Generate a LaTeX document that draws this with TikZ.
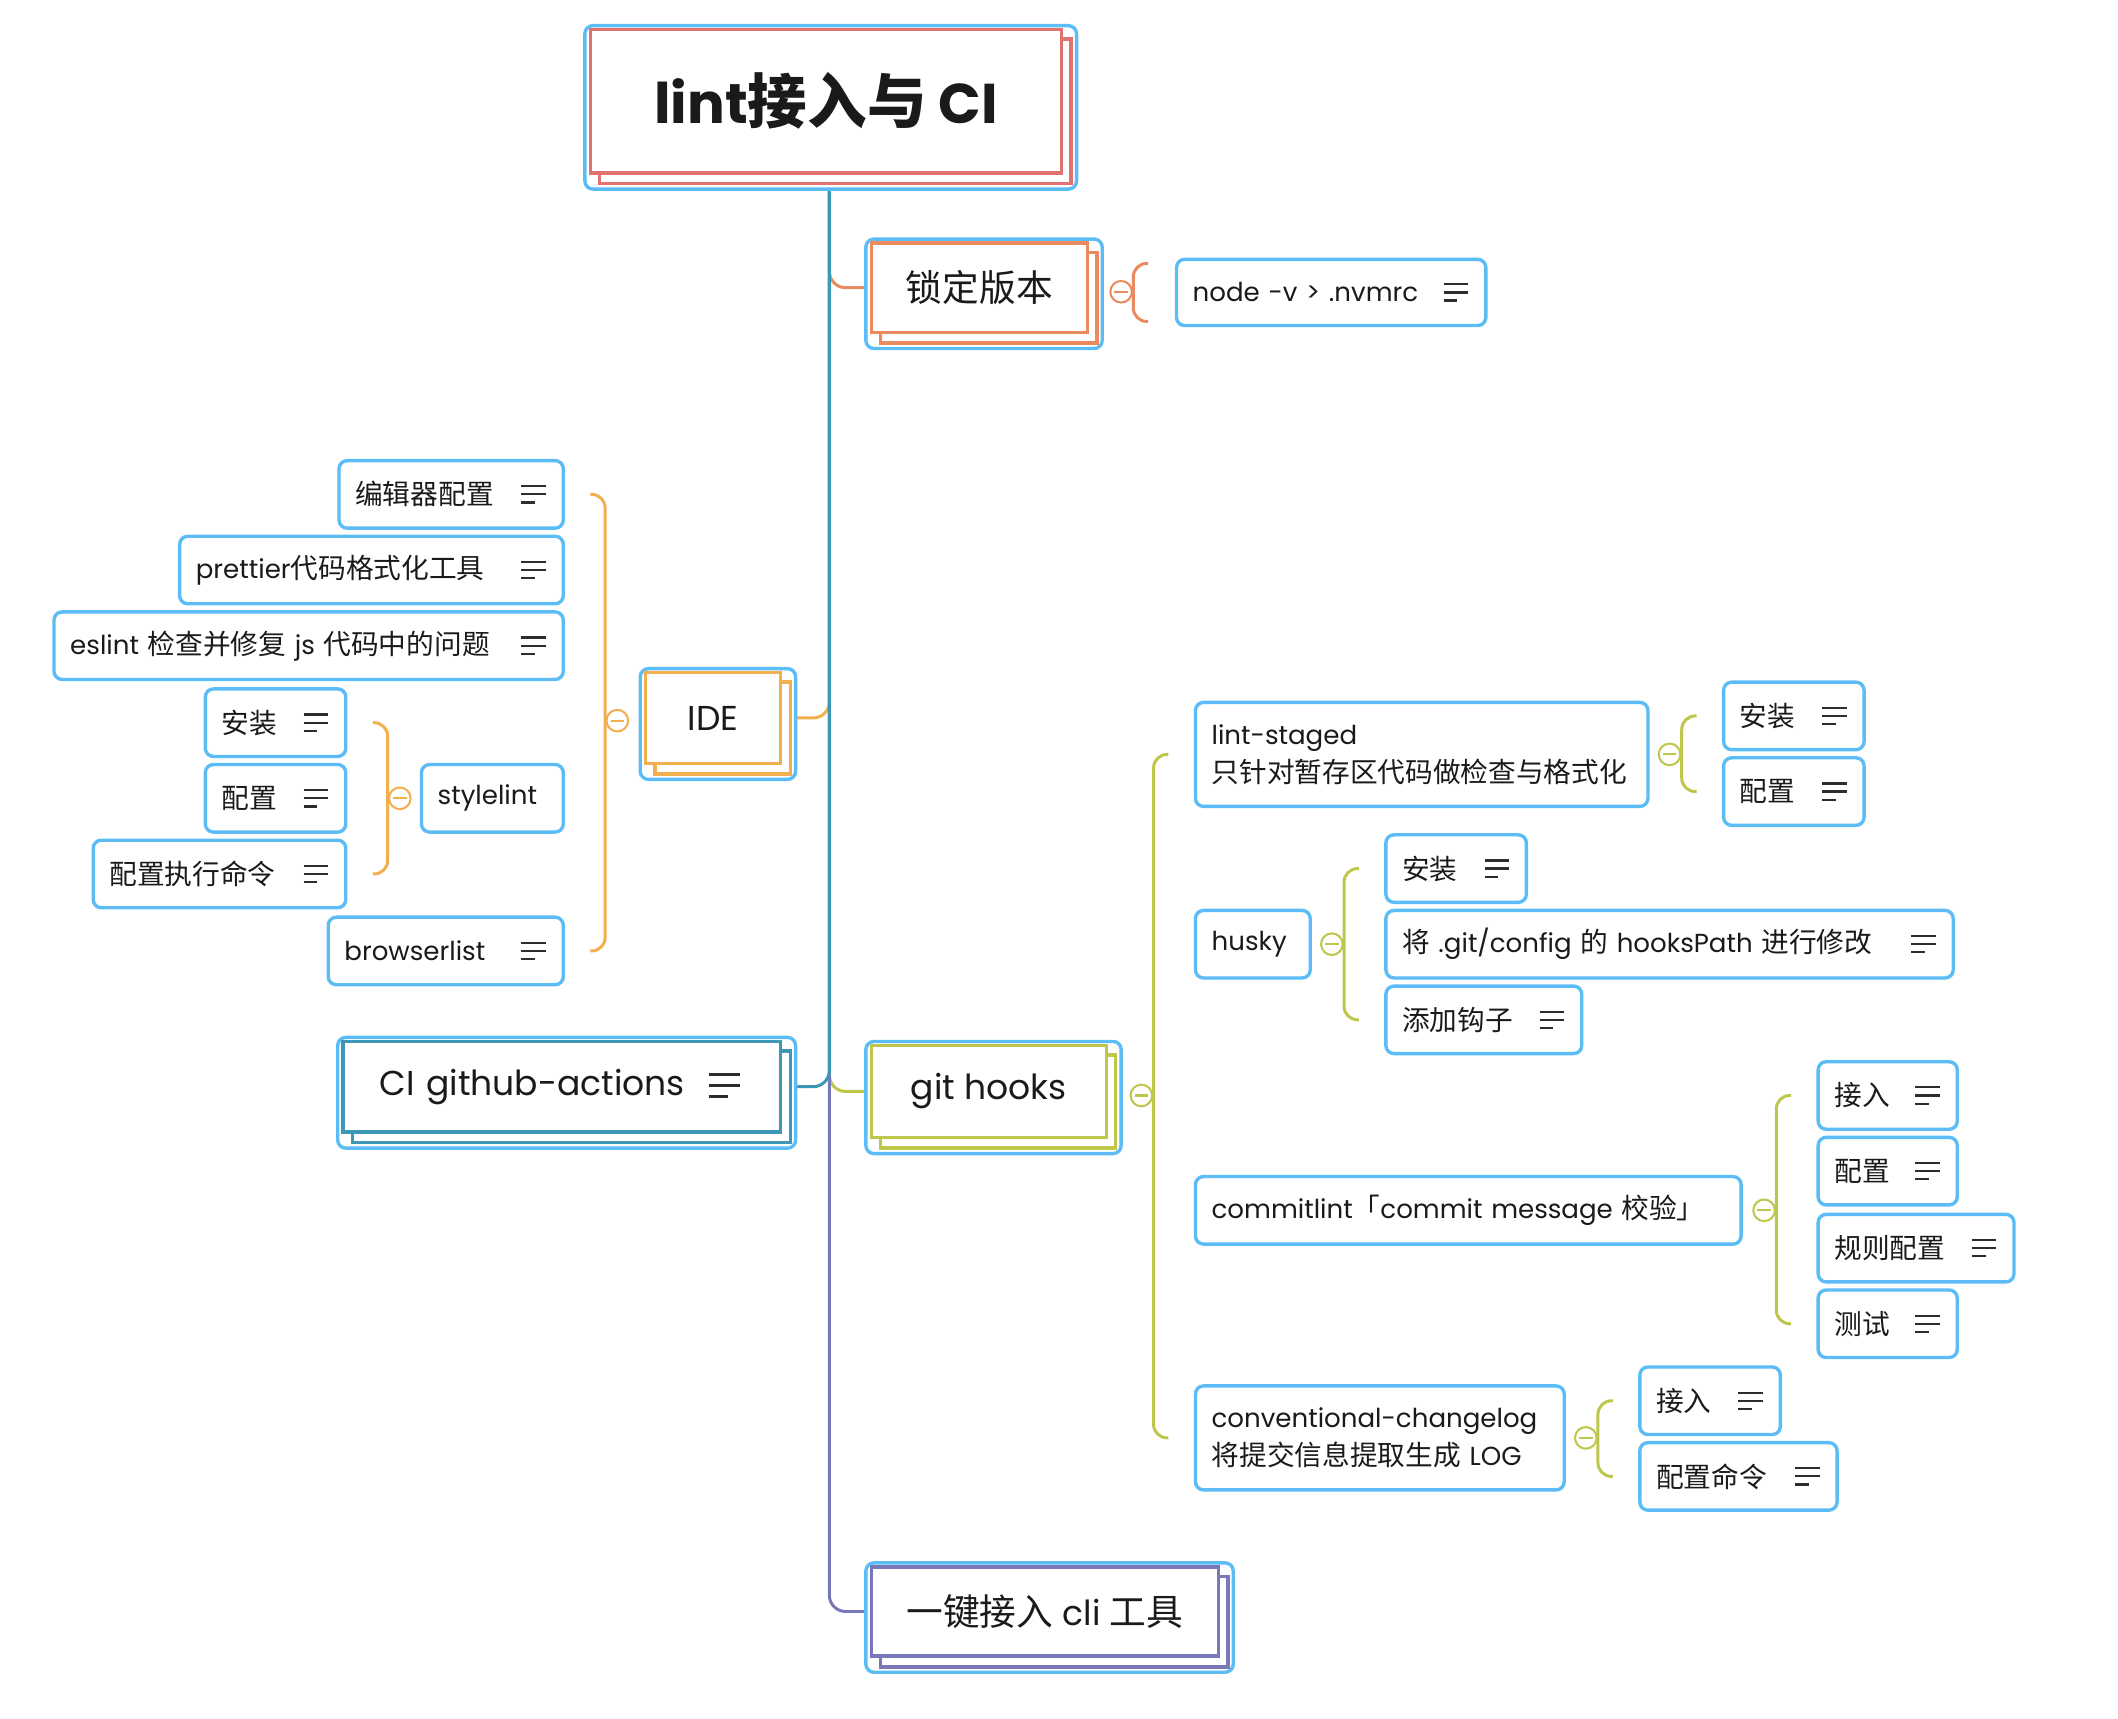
\documentclass[tikz,border=0pt]{standalone}
\usepackage{fontspec}
\setmainfont{Poppins}[Scale=0.965]
\newfontfamily\cjk{Noto Sans CJK SC}[Scale=1.025]
\newcommand\zh[1]{{\cjk #1}}
\newcommand\leaffont{\fontsize{20}{28}\selectfont}
\newcommand\topicfont{\fontsize{26.5}{32}\selectfont}
\newcommand\rootfont{\fontsize{43}{50}\selectfont\bfseries}
\definecolor{frameblue}{RGB}{92,188,245}
\definecolor{rootred}{RGB}{224,114,112}
\definecolor{lockorange}{RGB}{235,138,94}
\definecolor{ideorange}{RGB}{243,174,77}
\definecolor{teal}{RGB}{62,150,182}
\definecolor{hookgreen}{RGB}{190,198,75}
\definecolor{cliviolet}{RGB}{120,120,184}
\definecolor{ink}{RGB}{26,26,26}
\definecolor{iconcol}{RGB}{45,45,45}
\pgfdeclarelayer{lines}
\pgfdeclarelayer{background}
\newcommand\topicdeco[2]{%
  \begin{pgfonlayer}{background}
    \draw[frame] ([shift={(-4pt,3pt)}]#1.north west) rectangle ([shift={(11pt,-12pt)}]#1.south east);
    \draw[backrect=#2] ([shift={(7pt,-7pt)}]#1.north west) rectangle ([shift={(7pt,-8pt)}]#1.south east);
  \end{pgfonlayer}}
\newcommand\bracer[4]{%
  \begin{pgfonlayer}{background}
    \draw[brc=#1] ([xshift=20pt]#2.center |- #3.center) -- ([xshift=9pt]#2.center |- #3.center) -- ([xshift=9pt]#2.center |- #4.center) -- ([xshift=20pt]#2.center |- #4.center);
  \end{pgfonlayer}}
\newcommand\bracel[4]{%
  \begin{pgfonlayer}{background}
    \draw[brc=#1] ([xshift=-20pt]#2.center |- #3.center) -- ([xshift=-9pt]#2.center |- #3.center) -- ([xshift=-9pt]#2.center |- #4.center) -- ([xshift=-20pt]#2.center |- #4.center);
  \end{pgfonlayer}}
\begin{document}
\begin{tikzpicture}[x=1pt,y=-1pt,
  leaf/.style={draw=frameblue, line width=2.5pt, rounded corners=6pt, fill=white,
    inner xsep=12pt, inner ysep=0pt, outer sep=0pt, align=left, anchor=north west,
    font=\leaffont, text=ink, minimum height=50pt},
  icon/.style={path picture={\draw[line width=1.6pt, draw=iconcol, sharp corners]
    ([xshift=-31pt,yshift=6pt]path picture bounding box.east) -- ++(18pt,0pt)
    ([xshift=-31pt]path picture bounding box.east) -- ++(18pt,0pt)
    ([xshift=-31pt,yshift=-6pt]path picture bounding box.east) -- ++(10pt,0pt);}},
  bigicon/.style={path picture={\draw[line width=2pt, draw=iconcol]
    ([xshift=-53pt,yshift=9pt]path picture bounding box.east) -- ++(23pt,0pt)
    ([xshift=-53pt,yshift=1pt]path picture bounding box.east) -- ++(23pt,0pt)
    ([xshift=-53pt,yshift=-7pt]path picture bounding box.east) -- ++(14pt,0pt);}},
  topic/.style={draw=#1, line width=2.5pt, fill=white, inner sep=0pt, outer sep=0pt,
    anchor=north west, font=\topicfont, text=ink},
  frame/.style={draw=frameblue, line width=2.5pt, rounded corners=6pt, fill=white},
  backrect/.style={draw=#1, line width=2.5pt, fill=white},
  conn/.style={draw=#1, line width=2.2pt, rounded corners=12pt},
  brc/.style={draw=#1, line width=2.2pt, rounded corners=10pt},
  knob/.style={circle, draw=#1, fill=white, line width=1.5pt, minimum size=16pt, inner sep=0pt,
    path picture={\draw[draw=#1, line width=1.5pt] ([xshift=3pt]path picture bounding box.west) -- ([xshift=-3pt]path picture bounding box.east);}}
]
\pgfsetlayers{lines,background,main}
\useasboundingbox (0,0) rectangle (1568,1272);
\begin{pgfonlayer}{lines}
\fill[white] (0,0) rectangle (1568,1272);
\end{pgfonlayer}

% main topics
\node[topic=rootred, font=\rootfont, minimum width=349pt, minimum height=106pt] (root) at (437,22) {lint\zh{接入与} CI};
\node[topic=lockorange, minimum width=160pt, minimum height=66pt] (lock) at (645,180) {\zh{锁定版本}};
\node[topic=ideorange, minimum width=100pt, minimum height=67pt] (ide) at (478,498) {IDE};
\node[topic=teal, minimum width=324pt, minimum height=67pt, text width=270pt, align=left, bigicon] (ci) at (254,771) {CI github-actions};
\node[topic=hookgreen, minimum width=174pt, minimum height=68pt] (git) at (645,774) {git hooks};
\node[topic=cliviolet, minimum width=257pt, minimum height=66pt] (cli) at (645,1160) {\zh{一键接入} cli \zh{工具}};

\topicdeco{root}{rootred}
\topicdeco{lock}{lockorange}
\topicdeco{ide}{ideorange}
\topicdeco{ci}{teal}
\topicdeco{git}{hookgreen}
\topicdeco{cli}{cliviolet}

% leaves
\node[leaf, icon, text width=205pt, minimum height=49pt] (nvm) at (871,192) {node -v > .nvmrc};

\node[leaf, icon, text width=142pt] (e1) at (251,341) {\zh{编辑器配置}};
\node[leaf, icon, text width=260pt] (e2) at (133,397) {prettier\zh{代码格式化工具}};
\node[leaf, icon, text width=353pt] (e3) at (40,453) {eslint \zh{检查并修复} js \zh{代码中的问题}};
\node[leaf, text width=81pt] (sty) at (312,566) {stylelint};
\node[leaf, icon, text width=80pt] (s1) at (152,510) {\zh{安装}};
\node[leaf, icon, text width=80pt] (s2) at (152,566) {\zh{配置}};
\node[leaf, icon, text width=163pt] (s3) at (69,622) {\zh{配置执行命令}};
\node[leaf, icon, text width=150pt] (bl) at (243,679) {browserlist};

\node[leaf, text width=311pt, minimum height=77pt] (ls) at (885,520) {lint-staged\\\zh{只针对暂存区代码做检查与格式化}};
\node[leaf, icon, text width=80pt] (ls1) at (1276,505) {\zh{安装}};
\node[leaf, icon, text width=80pt] (ls2) at (1276,561) {\zh{配置}};
\node[leaf, text width=61pt] (hk) at (885,674) {husky};
\node[leaf, icon, text width=80pt] (hk1) at (1026,618) {\zh{安装}};
\node[leaf, icon, text width=396pt] (hk2) at (1026,674) {\zh{将} .git/config \zh{的} hooksPath \zh{进行修改}};
\node[leaf, icon, text width=121pt] (hk3) at (1026,730) {\zh{添加钩子}};
\node[leaf, text width=380pt] (cl) at (885,871) {commitlint\zh{「}commit message \zh{校验」}};
\node[leaf, icon, text width=79pt] (cl1) at (1346,786) {\zh{接入}};
\node[leaf, icon, text width=79pt] (cl2) at (1346,842) {\zh{配置}};
\node[leaf, icon, text width=121pt] (cl3) at (1346,899) {\zh{规则配置}};
\node[leaf, icon, text width=79pt] (cl4) at (1346,955) {\zh{测试}};
\node[leaf, text width=249pt, minimum height=77pt] (cg) at (885,1026) {\mbox{conventional-changelog}\\\zh{将提交信息提取生成} LOG};
\node[leaf, icon, text width=80pt] (cg1) at (1214,1012) {\zh{接入}};
\node[leaf, icon, text width=122pt] (cg2) at (1214,1068) {\zh{配置命令}};

% collapse knobs
\node[knob=lockorange] (lock-k) at ([xshift=25pt,yshift=-3pt]lock.east) {};
\node[knob=ideorange] (ide-k) at ([xshift=-21pt,yshift=-2pt]ide.west) {};
\node[knob=ideorange] (sty-k) at ([xshift=-16pt]sty.west) {};
\node[knob=hookgreen] (git-k) at ([xshift=26pt,yshift=-3pt]git.east) {};
\node[knob=hookgreen] (ls-k) at ([xshift=16pt]ls.east) {};
\node[knob=hookgreen] (hk-k) at ([xshift=16pt]hk.east) {};
\node[knob=hookgreen] (cl-k) at ([xshift=17pt]cl.east) {};
\node[knob=hookgreen] (cg-k) at ([xshift=16pt]cg.east) {};

% braces
\begin{pgfonlayer}{background}
  \draw[brc=lockorange] ([xshift=20pt,yshift=-3pt]lock-k.center |- nvm.north) -- ([xshift=9pt,yshift=-3pt]lock-k.center |- nvm.north) -- ([xshift=9pt,yshift=3pt]lock-k.center |- nvm.south) -- ([xshift=20pt,yshift=3pt]lock-k.center |- nvm.south);
\end{pgfonlayer}
\bracel{ideorange}{ide-k}{e1}{bl}
\bracel{ideorange}{sty-k}{s1}{s3}
\bracer{hookgreen}{git-k}{ls}{cg}
\bracer{hookgreen}{ls-k}{ls1}{ls2}
\bracer{hookgreen}{hk-k}{hk1}{hk3}
\bracer{hookgreen}{cl-k}{cl1}{cl4}
\bracer{hookgreen}{cg-k}{cg1}{cg2}

% trunk connectors
\begin{pgfonlayer}{lines}
  \draw[conn=lockorange] ([xshift=2.5pt]root.south) |- (lock.west);
  \draw[conn=ideorange] ([xshift=2.5pt]root.south) |- (ide.east);
  \draw[conn=hookgreen] ([xshift=2.5pt]root.south) |- (git.west);
  \draw[conn=cliviolet] ([xshift=2.5pt]root.south) |- (cli.west);
  \draw[conn=teal] ([xshift=2.5pt]root.south) |- (ci.east);
\end{pgfonlayer}
\end{tikzpicture}
\end{document}
